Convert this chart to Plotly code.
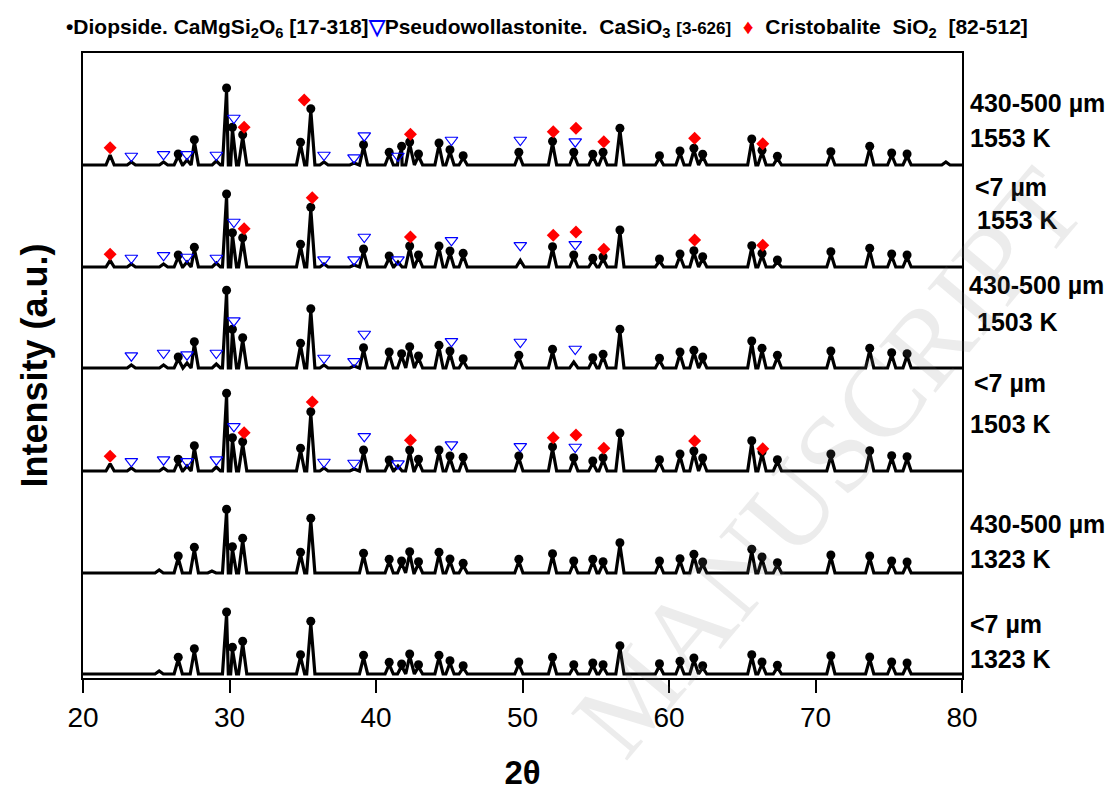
import plotly.graph_objects as go

# ---------------- data ----------------
SAMPLES = ["430-500 µm<br>1553 K", "<7 µm<br>1553 K", "430-500 µm<br>1503 K",
           "<7 µm<br>1503 K", "430-500 µm<br>1323 K", "<7 µm<br>1323 K"]

# Diopside reflections (2θ), shared by all patterns
DIO_2THETA = [26.5, 27.6, 29.8, 30.2, 30.9, 34.85, 35.55, 39.15, 40.9, 41.75, 42.3, 42.9,
              44.3, 45.05, 45.95, 49.75, 52.05, 53.5, 54.8, 55.5, 56.65, 59.35, 60.75,
              61.7, 62.3, 65.65, 66.35, 67.4, 71.05, 73.7, 75.2, 76.25]

# peak heights (a.u., above each pattern's baseline); 0 = no marked peak
dio_h_1 = [9, 23.3, 75, 35.7, 28.3, 20.7, 54.3, 18.3, 10.7, 16.7, 21, 9, 20, 13.3, 7.3, 10.7,
           21.7, 10.7, 8.7, 10.7, 34.7, 7.3, 12, 14.7, 8.7, 24, 12.7, 6.7, 11.3, 16.7, 10, 9]
dio_h_2 = [10, 17.7, 71, 32.3, 27.3, 20.7, 57.7, 16, 9, 0, 19, 10, 19, 14, 11.7, 0,
           18.3, 10, 6.7, 8.3, 35, 6, 11, 14.3, 8.3, 19.3, 11.7, 5, 13.3, 16.7, 11, 10]
dio_h_3 = [9, 24.3, 75.7, 36.7, 28.3, 22.7, 57.3, 18.3, 14, 12.3, 19.3, 10, 20.7, 15, 7.3, 10.7,
           16.7, 0, 8.3, 11.7, 36.7, 7.7, 14, 15.7, 9, 25, 17.7, 10.7, 15, 17.7, 13.3, 12.3]
dio_h_4 = [9.7, 23.3, 75.7, 31.3, 27.3, 20.7, 57.3, 19, 9, 0, 19, 9.7, 19, 13, 11.7, 13,
           22.3, 11.3, 8, 11.3, 36, 9.3, 15, 18, 11, 28.3, 17.3, 9.3, 15, 18.3, 13.3, 12.3]
dio_h_5 = [15, 23.7, 61.7, 24.3, 32.7, 18.7, 52.7, 17.7, 11.7, 10, 19.3, 9.3, 18.7, 12, 7.7, 11.7,
           17.3, 10, 11.7, 9.3, 28.3, 10, 12.3, 16.7, 9, 21.7, 14, 8.3, 16, 15, 10, 9]
dio_h_6 = [14.7, 23.3, 60, 24.7, 30.7, 17.3, 50.7, 16.7, 9.7, 8, 18, 7.3, 16.7, 11.3, 6.3, 10,
           14.7, 7.3, 9, 7.3, 26.3, 8.3, 10.7, 14, 6.3, 17.3, 10, 6.7, 16.3, 15, 10, 9]
DIO_H = [dio_h_1, dio_h_2, dio_h_3, dio_h_4, dio_h_5, dio_h_6]

# small unmarked reflections (2θ, height)
bump_x_1 = [21.85, 23.3, 25.5, 27.1, 29.1, 36.45, 38.5, 41.5, 78.9]
bump_h_1 = [10, 3, 3, 5, 4, 3, 2, 5, 3]
bump_x_2 = [21.85, 23.3, 25.5, 27.1, 29.1, 36.45, 38.5, 41.5, 49.85]
bump_h_2 = [6.7, 3, 3, 5, 4, 3, 2, 5, 6.7]
bump_x_3 = [23.3, 25.5, 27.1, 29.1, 36.45, 38.5, 53.5]
bump_h_3 = [3, 3, 5, 4, 3, 2, 6]
bump_x_4 = [21.85, 23.3, 25.5, 27.1, 29.1, 36.45, 38.5, 41.5]
bump_h_4 = [7.3, 3, 3, 5, 4, 3, 2, 5]
bump_x_5 = [25.2, 28.8]
bump_h_5 = [3, 2]
bump_x_6 = [25.2]
bump_h_6 = [3]
BUMP_X = [bump_x_1, bump_x_2, bump_x_3, bump_x_4, bump_x_5, bump_x_6]
BUMP_H = [bump_h_1, bump_h_2, bump_h_3, bump_h_4, bump_h_5, bump_h_6]

# Pseudowollastonite marks (2θ, level above baseline)
pw_x_1 = [23.3, 25.5, 27.1, 29.1, 30.3, 36.45, 38.5, 39.2, 41.5, 45.15, 49.85, 53.6]
pw_y_1 = [9, 10.7, 10.7, 10, 47, 10, 7.3, 29.3, 9, 25, 25, 23.3]
pw_x_2 = [23.3, 25.5, 27.1, 29.1, 30.3, 36.45, 38.5, 39.2, 41.5, 45.15, 49.85, 53.6]
pw_y_2 = [9, 11.7, 10, 9, 45, 7.3, 7.3, 30, 7.3, 26.7, 21.7, 22.7]
pw_x_3 = [23.3, 25.5, 27.1, 29.1, 30.3, 36.45, 38.5, 39.2, 45.15, 49.85, 53.6]
pw_y_3 = [12.3, 15, 13.3, 15, 47.3, 10, 6.7, 34, 26.7, 26, 19]
pw_x_4 = [23.3, 25.5, 27.1, 29.1, 30.3, 36.45, 38.5, 39.2, 41.5, 45.15, 49.85, 53.6]
pw_y_4 = [9.7, 11.3, 9.7, 11.3, 44.7, 9, 8, 34.7, 7.3, 26.3, 24.7, 24]
PW_X = [pw_x_1, pw_x_2, pw_x_3, pw_x_4, [], []]
PW_Y = [pw_y_1, pw_y_2, pw_y_3, pw_y_4, [], []]

# Cristobalite marks (2θ, level above baseline)
cr_x_1 = [21.85, 31.0, 35.1, 42.35, 52.1, 53.65, 55.55, 61.75, 66.4]
cr_y_1 = [17.3, 37.7, 65, 30.7, 33.3, 36.7, 23.3, 26.7, 21.3]
cr_x_2 = [21.85, 31.0, 35.65, 42.35, 52.1, 53.65, 55.55, 61.75, 66.4]
cr_y_2 = [12.7, 38.3, 69.3, 30, 31.7, 35, 17.7, 27, 21.7]
cr_x_4 = [21.85, 31.0, 35.65, 42.35, 52.1, 53.65, 55.55, 61.75, 66.4]
cr_y_4 = [14.7, 38.3, 69, 30.7, 33.3, 36, 22.7, 30, 22.3]
CR_X = [cr_x_1, cr_x_2, [], cr_x_4, [], []]
CR_Y = [cr_y_1, cr_y_2, [], cr_y_4, [], []]

# ---------------- styling / layout constants ----------------
OFFSETS = [513, 411, 310, 207, 105, 4]   # vertical stacking of the patterns
HALF_W = 0.28                             # drawn half-width of a reflection (deg)
DOT_LIFT = 2.0
FONT = "Liberation Sans, Arial, sans-serif"

fig = go.Figure()

for i in range(6):
    off = OFFSETS[i]
    peaks = [(x, h) for x, h in zip(DIO_2THETA, DIO_H[i]) if h > 0]
    peaks += list(zip(BUMP_X[i], BUMP_H[i]))
    verts = [(20.0, 0.0), (80.0, 0.0)]
    for x, h in peaks:
        verts += [(x - HALF_W, 0.0), (x, h), (x + HALF_W, 0.0)]
    verts.sort(key=lambda p: p[0])
    fig.add_trace(go.Scatter(
        x=[v[0] for v in verts], y=[v[1] + off for v in verts],
        mode="lines", line=dict(color="black", width=3.2),
        name=SAMPLES[i].replace("<br>", " "), showlegend=False, hoverinfo="skip"))

    dx = [x for x, h in zip(DIO_2THETA, DIO_H[i]) if h > 0]
    dy = [h + off + DOT_LIFT for h in DIO_H[i] if h > 0]
    fig.add_trace(go.Scatter(x=dx, y=dy, mode="markers",
                             marker=dict(symbol="circle", size=9, color="black"),
                             showlegend=False, name="Diopside"))
    if PW_X[i]:
        fig.add_trace(go.Scatter(x=PW_X[i], y=[v + off for v in PW_Y[i]], mode="markers",
                                 marker=dict(symbol="triangle-down-open", size=11,
                                             color="blue", line=dict(width=1.2, color="blue")),
                                 showlegend=False, name="Pseudowollastonite"))
    if CR_X[i]:
        fig.add_trace(go.Scatter(x=CR_X[i], y=[v + off for v in CR_Y[i]], mode="markers",
                                 marker=dict(symbol="diamond", size=10, color="red"),
                                 showlegend=False, name="Cristobalite"))

# the page body adds an 8 px margin around the figure
PAGE = 8
W, H = 1118 - PAGE, 791 - PAGE
L, R, T, B = 83 - PAGE, 156, 53 - PAGE, 113
pw = W - L - R
ph = H - T - B


def px_to_paper(x, y):
    """window pixel -> paper coordinates"""
    return (x - PAGE - L) / pw, (H - B - (y - PAGE)) / ph


annotations = []
# sample labels at the right
LABEL_POS = [(103, 138), (187, 220), (285, 322), (383, 424), (524, 559), (624, 659)]
LABEL_X = [(968, 968), (973, 975), (967, 975), (972, 968), (968, 968), (968, 968)]
for i, lab in enumerate(SAMPLES):
    lines = lab.split("<br>")
    for j in range(2):
        xp, yp = px_to_paper(LABEL_X[i][j], LABEL_POS[i][j])
        annotations.append(dict(xref="paper", yref="paper", x=xp, y=yp, xanchor="left",
                                yanchor="middle", text=lines[j], showarrow=False,
                                font=dict(family=FONT, size=25, color="black", weight="bold")))

# legend line on top
lx, ly = px_to_paper(64, 28)
legend_text = ("<span style='color:black'>•</span>Diopside. CaMgSi<sub>2</sub>O<sub>6</sub> [17-318]"
               "<span style='color:blue'>▽</span>Pseudowollastonite.  CaSiO<sub>3</sub> "
               "<span style='font-size:17px'>[3-626]</span>  "
               "<span style='color:red'>♦</span>  Cristobalite  SiO<sub>2</sub>  [82-512]")
annotations.append(dict(xref="paper", yref="paper", x=lx, y=ly, xanchor="left", yanchor="middle",
                        text=legend_text, showarrow=False,
                        font=dict(family=FONT, size=21, color="black", weight="bold")))

# watermark
wx, wy = px_to_paper(828, 462)
annotations.append(dict(xref="paper", yref="paper", x=wx, y=wy, xanchor="center", yanchor="middle",
                        text="MANUSCRIPT", textangle=-50, showarrow=False,
                        font=dict(family="Liberation Serif, serif", size=112,
                                  color="rgba(120,120,120,0.14)")))

fig.update_layout(
    width=W, height=H,
    margin=dict(l=L, r=R, t=T, b=B, autoexpand=False),
    paper_bgcolor="white", plot_bgcolor="white",
    showlegend=False,
    annotations=annotations,
    xaxis=dict(range=[20, 80], tickvals=[20, 30, 40, 50, 60, 70, 80],
               ticks="outside", ticklen=13, tickwidth=2, tickcolor="black",
               showline=True, linecolor="black", linewidth=2, mirror=True,
               showgrid=False, zeroline=False, automargin=False,
               tickfont=dict(family="Liberation Sans Narrow, Liberation Sans, Arial", size=28, color="black"),
               title=dict(text="2θ", font=dict(family=FONT, size=33, color="black", weight="bold"),
                          standoff=33)),
    yaxis=dict(range=[0, ph], showticklabels=False, ticks="",
               showline=True, linecolor="black", linewidth=2, mirror=True,
               showgrid=False, zeroline=False, automargin=False,
               title=dict(text="Intensity (a.u.)",
                          font=dict(family=FONT, size=36, color="black", weight="bold"),
                          standoff=22)),
)

fig.write_html("out.html")
